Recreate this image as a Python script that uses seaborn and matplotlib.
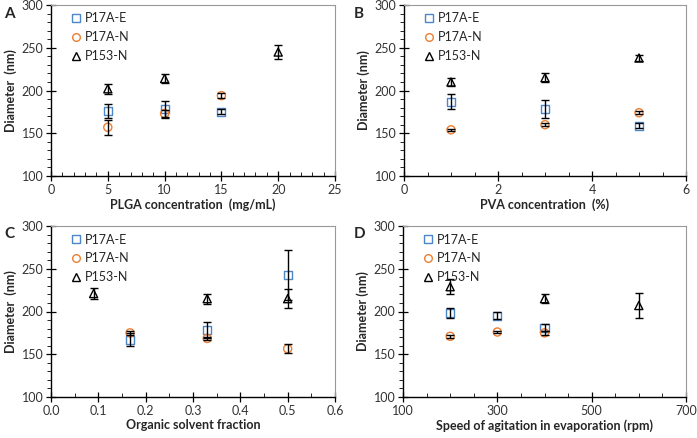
import numpy as np
import pandas as pd
import matplotlib
matplotlib.use("Agg")
import matplotlib.pyplot as plt
import seaborn as sns
from matplotlib.ticker import MultipleLocator, FixedLocator

series_names = ["P17A-E", "P17A-N", "P153-N"]
series_colors = ["#4a86c8", "#ed7d31", "#000000"]
series_markers = ["s", "o", "^"]

# panel A: PLGA concentration (mg/mL)
a_x = {"P17A-E": [5, 10, 15], "P17A-N": [5, 10, 15], "P153-N": [5, 10, 20]}
a_y = {"P17A-E": [176, 178, 175], "P17A-N": [157, 173, 194], "P153-N": [202, 214, 245]}
a_err = {"P17A-E": [8.5, 10, 3], "P17A-N": [8.5, 4, 3], "P153-N": [6, 5, 8]}

# panel B: PVA concentration (%)
b_x = {"P17A-E": [1, 3, 5], "P17A-N": [1, 3, 5], "P153-N": [1, 3, 5]}
b_y = {"P17A-E": [187, 178, 159], "P17A-N": [154, 160, 174], "P153-N": [210, 215, 238]}
b_err = {"P17A-E": [8.5, 10.5, 2.5], "P17A-N": [1.5, 2, 2], "P153-N": [5, 5, 4]}

# panel C: organic solvent fraction
c_x = {"P17A-E": [0.167, 0.33, 0.5], "P17A-N": [0.167, 0.33, 0.5], "P153-N": [0.09, 0.33, 0.5]}
c_y = {"P17A-E": [167, 178.5, 243], "P17A-N": [175, 168.5, 156.5], "P153-N": [221, 215, 215]}
c_err = {"P17A-E": [7.5, 9.5, 29], "P17A-N": [2, 2, 5], "P153-N": [6.5, 6, 11]}

# panel D: speed of agitation (rpm)
d_x = {"P17A-E": [200, 300, 400], "P17A-N": [200, 300, 400], "P153-N": [200, 400, 600]}
d_y = {"P17A-E": [198, 195, 181], "P17A-N": [171, 176, 175], "P153-N": [229, 215, 207]}
d_err = {"P17A-E": [6, 4, 4], "P17A-N": [1.5, 1.5, 2], "P153-N": [8.5, 5, 15]}

a_ticks = [0, 5, 10, 15, 20, 25]
b_ticks = [0, 2, 4, 6]
c_ticks = [0.0, 0.1, 0.2, 0.3, 0.4, 0.5, 0.6]
d_ticks = [100, 300, 500, 700]


def to_frame(xs, ys, errs):
    rows = []
    for s in series_names:
        for x, y, e in zip(xs[s], ys[s], errs[s]):
            rows.append({"x": x, "y": y, "err": e, "series": s})
    return pd.DataFrame(rows)


panels = [
    ("A", to_frame(a_x, a_y, a_err), "PLGA concentration  (mg/mL)", "Diameter  (nm)", a_ticks, 1, "{:.0f}"),
    ("B", to_frame(b_x, b_y, b_err), "PVA concentration  (%)", "Diameter (nm)", b_ticks, 0.5, "{:.0f}"),
    ("C", to_frame(c_x, c_y, c_err), "Organic solvent fraction", "Diameter  (nm)", c_ticks, 0.05, "{:.1f}"),
    ("D", to_frame(d_x, d_y, d_err), "Speed of agitation in evaporation (rpm)", "Diameter (nm)", d_ticks, 50, "{:.0f}"),
]

sns.set_style("white")
plt.rcParams["font.family"] = ["Lato", "DejaVu Sans"]

fig = plt.figure(figsize=(6.97, 4.38), dpi=100)
boxes = [
    (51 / 697, 1 - 176 / 438, 284 / 697, 171 / 438),
    (404 / 697, 1 - 176 / 438, 282 / 697, 171 / 438),
    (51 / 697, 1 - 397 / 438, 284 / 697, 171 / 438),
    (403 / 697, 1 - 397 / 438, 283 / 697, 171 / 438),
]
label_pos = [(4, 14), (354, 14), (4, 234), (354, 234)]

for (label, df, xlabel, ylabel, ticks, xmin, fmt), box, lp in zip(panels, boxes, label_pos):
    ax = fig.add_axes(box)
    sns.scatterplot(data=df, x="x", y="y", hue="series", style="series",
                    hue_order=series_names, style_order=series_names,
                    palette=series_colors, markers=series_markers,
                    s=34, linewidth=1.0, ax=ax, zorder=2)
    # make markers hollow
    for coll in ax.collections:
        fc = coll.get_facecolors()
        coll.set_edgecolors(fc)
        coll.set_facecolors("none")
    for s in series_names:
        sub = df[df["series"] == s]
        ax.errorbar(sub["x"], sub["y"], yerr=sub["err"], fmt="none",
                    ecolor="black", elinewidth=1.0, capsize=3, capthick=1.0, zorder=3)

    ax.set_xlim(ticks[0], ticks[-1])
    ax.set_ylim(100, 300)
    ax.xaxis.set_major_locator(FixedLocator(ticks))
    ax.xaxis.set_minor_locator(MultipleLocator(xmin))
    ax.yaxis.set_major_locator(MultipleLocator(50))
    ax.yaxis.set_minor_locator(MultipleLocator(10))
    ax.set_xticklabels([fmt.format(t) for t in ticks])
    ax.tick_params(axis="both", which="major", direction="inout", length=7, width=0.9,
                   labelsize=9, colors="black", bottom=True, left=True)
    ax.tick_params(axis="x", which="minor", direction="in", length=3, width=0.7, bottom=True)
    ax.tick_params(axis="y", which="minor", direction="out", length=3, width=0.7, left=True)
    ax.tick_params(axis="both", which="major", labelcolor="#333333", pad=2)

    for side in ["top", "right"]:
        ax.spines[side].set_color("#999999")
        ax.spines[side].set_linewidth(0.8)
    for side in ["left", "bottom"]:
        ax.spines[side].set_color("black")
        ax.spines[side].set_linewidth(1.0)

    ax.set_xlabel(xlabel, fontsize=9, fontweight="bold", labelpad=2)
    ax.set_ylabel(ylabel, fontsize=9, fontweight="bold", labelpad=3)

    handles, labels = ax.get_legend_handles_labels()
    for h, c in zip(handles, series_colors):
        h.set_markerfacecolor("none")
        h.set_markeredgecolor(c)
        h.set_markersize(5.5)
    ax.legend(handles, labels, loc="upper left", frameon=False, fontsize=9,
              handletextpad=0.2, borderaxespad=0.2, labelspacing=0.55,
              handlelength=1.0, bbox_to_anchor=(0.04, 1.0))

    fig.text(lp[0] / 697, 1 - lp[1] / 438, label, fontsize=11,
             fontweight="bold", ha="left", va="center")

fig.savefig("out.png", dpi=100)
